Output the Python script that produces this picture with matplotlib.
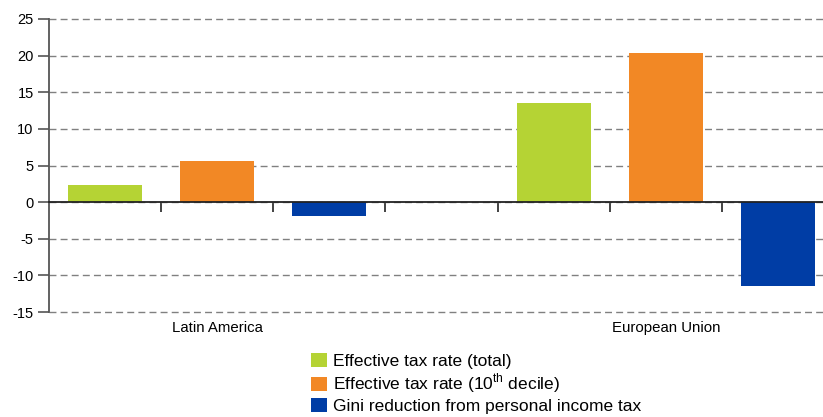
import numpy as np
import matplotlib
matplotlib.use("Agg")
import matplotlib.pyplot as plt
from matplotlib.patches import Patch
from matplotlib.transforms import blended_transform_factory

plt.rcParams['font.family'] = ['Liberation Sans', 'DejaVu Sans']
plt.rcParams['mathtext.fontset'] = 'custom'
plt.rcParams['mathtext.rm'] = 'Liberation Sans'
plt.rcParams['axes.unicode_minus'] = False

regions = ['Latin America', 'European Union']
series = ['Effective tax rate (total)',
          'Effective tax rate (10$^{\\mathrm{th}}$ decile)',
          'Gini reduction from personal income tax']
total_rate = [2.4, 13.5]
decile_rate = [5.6, 20.4]
gini_reduction = [-1.9, -11.5]
colors = ['#B5D334', '#F28825', '#003DA5']

fig = plt.figure(figsize=(8.23, 4.17), dpi=100)
ax = fig.add_axes([49 / 823, 1 - 312 / 417, 785 / 823, 293 / 417])

values = [total_rate, decile_rate, gini_reduction]
for g, region in enumerate(regions):
    for s in range(3):
        x = g * 4 + s
        ax.bar(x, values[s][g], width=0.66, color=colors[s], zorder=3)

ax.set_xlim(-0.5, 6.5)
ax.set_ylim(-15, 25)
ax.set_yticks(np.arange(-15, 26, 5))
ax.yaxis.grid(True, linestyle=(0, (5, 3)), color='#808080', linewidth=1)
ax.set_axisbelow(True)
for line in ax.get_ygridlines():
    line.set_clip_on(False)

for side in ['top', 'right']:
    ax.spines[side].set_visible(False)
ax.spines['left'].set_color('#555555')
ax.spines['left'].set_linewidth(1.3)
ax.spines['bottom'].set_position(('data', 0))
ax.spines['bottom'].set_color('#222222')
ax.spines['bottom'].set_linewidth(1.3)
ax.spines['bottom'].set_zorder(4)

ax.set_xticks(np.arange(0.5, 6.5, 1))
ax.set_xticklabels([])
ax.tick_params(axis='x', length=7, width=1.2, color='#222222', direction='out')
ax.tick_params(axis='y', length=8, width=1.2, color='#555555', labelsize=10.5, pad=3)

trans = blended_transform_factory(ax.transData, ax.transAxes)
for g, region in enumerate(regions):
    ax.text(g * 4 + 1, -0.03, region, transform=trans, ha='center', va='top', fontsize=10.8)

handles = [Patch(facecolor=c) for c in colors]
fig.legend(handles, series, loc='upper left', bbox_to_anchor=(311 / 823, 1 - 353 / 417),
           frameon=False, fontsize=12.5, handlelength=0.9, handleheight=0.9,
           handletextpad=0.35, labelspacing=0.15, borderaxespad=0, borderpad=0)

fig.savefig('out.png', dpi=100)
